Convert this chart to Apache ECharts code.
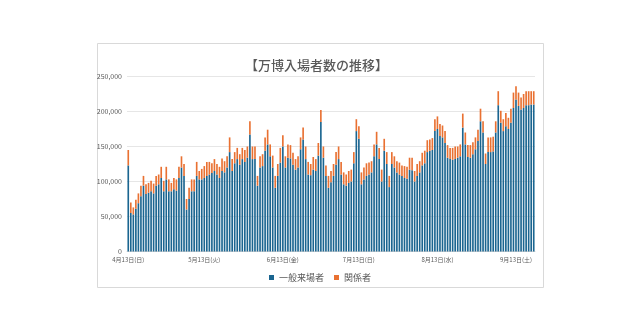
<!DOCTYPE html>
<html>
<head>
<meta charset="utf-8">
<script src="https://cdn.jsdelivr.net/npm/echarts@6/dist/echarts.min.js"></script>
<style>
html,body{margin:0;padding:0;background:#fff;}
#c{width:640px;height:331px;}
</style>
</head>
<body>
<div id="c"></div>
<script>
// ---- data ----
const startDate = [2025, 4, 13];   // first day shown
const dayCount = 161;              // 4/13 .. 9/20
const weekdays = ['日','月','火','水','木','金','土'];
const tickLabels = ['4月13日(日)','5月13日(火)','6月13日(金)','7月13日(日)','8月13日(水)','9月13日(土)'];
const seriesNames = ['一般来場者','関係者'];
const yTicks = [0, 50000, 100000, 150000, 200000, 250000];

const general = [
123000,55000,53000,61000,69000,79000,94000,82000,84000,86000,
83000,94000,96000,105000,86000,103000,86000,86000,89000,87000,
105000,120000,108000,60000,75000,86000,86000,108000,103000,103000,
105000,108000,110000,112000,115000,110000,105000,115000,113000,120000,
142000,115000,126000,132000,124000,132000,128000,134000,167000,132000,
132000,94000,120000,122000,144000,153000,136000,120000,91000,108000,
127000,150000,120000,134000,133000,124000,117000,120000,146000,160000,
132000,110000,109000,117000,115000,137000,185000,134000,108000,91000,
99000,108000,124000,132000,110000,96000,94000,98000,100000,126000,
172000,161000,96000,103000,108000,110000,113000,136000,153000,132000,
100000,144000,125000,92000,125000,120000,113000,110000,108000,105000,
104000,117000,116000,100000,108000,113000,123000,126000,142000,144000,
145000,172000,175000,165000,163000,155000,134000,132000,131000,132000,
134000,136000,177000,153000,135000,134000,139000,146000,158000,186000,
170000,125000,142000,142000,143000,170000,209000,184000,172000,179000,
175000,184000,205000,217000,208000,203000,205000,209000,209000,210000,
210000
];
const related = [
22000,15000,10000,13000,14000,15000,14000,14000,14000,15000,
14000,14000,14000,16000,15000,18000,17000,12000,16000,16000,
16000,16000,17000,15000,16000,17000,17000,20000,12000,15000,
17000,20000,18000,14000,17000,15000,16000,18000,16000,16000,
21000,17000,16000,16000,15000,16000,17000,16000,19000,18000,
18000,14000,16000,17000,19000,21000,17000,17000,17000,17000,
21000,16000,16000,19000,19000,17000,15000,16000,17000,17000,
18000,18000,16000,18000,17000,18000,17000,16000,15000,17000,
16000,17000,18000,18000,18000,17000,16000,17000,17000,16000,
17000,18000,17000,17000,18000,17000,16000,17000,18000,16000,
17000,17000,17000,16000,17000,16000,16000,17000,15000,17000,
17000,17000,18000,15000,17000,16000,18000,18000,17000,16000,
17000,17000,18000,17000,17000,17000,18000,16000,17000,18000,
16000,17000,20000,17000,17000,18000,17000,17000,16000,18000,
16000,15000,21000,21000,21000,16000,20000,17000,17000,19000,
16000,20000,22000,19000,19000,17000,20000,20000,20000,19000,
19000
];

// category labels: consecutive calendar days
const categories = [];
for (let k = 0; k < dayCount; k++) {
  const d = new Date(startDate[0], startDate[1] - 1, startDate[2] + k);
  categories.push((d.getMonth() + 1) + '月' + d.getDate() + '日(' + weekdays[d.getDay()] + ')');
}

const FONT = '"Noto Sans CJK JP", "Noto Sans", sans-serif';
const chart = echarts.init(document.getElementById('c'), null, {renderer: 'canvas'});
chart.setOption({
  animation: false,
  backgroundColor: '#ffffff',
  graphic: [{
    type: 'rect',
    shape: {x: 97.5, y: 43.5, width: 446, height: 244},
    style: {fill: 'none', stroke: '#D9D9D9', lineWidth: 1},
    silent: true, z: -1
  }],
  title: {
    text: '【万博入場者数の推移】',
    left: 240, top: 54,
    textStyle: {fontFamily: FONT, fontSize: 13, fontWeight: 500, color: '#595959'}
  },
  legend: {
    data: seriesNames,
    left: 'center', top: 268,
    icon: 'rect', itemWidth: 5, itemHeight: 5, itemGap: 10,
    textStyle: {fontFamily: FONT, fontSize: 9, color: '#595959'}
  },
  grid: {left: 127, right: 105, top: 76.5, bottom: 79.5, containLabel: false},
  xAxis: {
    type: 'category',
    data: categories,
    axisLine: {show: true, lineStyle: {color: '#D9D9D9', width: 1}},
    axisTick: {show: false},
    axisLabel: {
      interval: function (idx, val) { return tickLabels.indexOf(val) >= 0; },
      fontFamily: FONT, fontSize: 6, color: '#595959', margin: 5
    }
  },
  yAxis: {
    type: 'value',
    min: yTicks[0], max: yTicks[yTicks.length - 1], interval: 50000,
    axisLine: {show: false}, axisTick: {show: false},
    splitLine: {lineStyle: {color: '#E6E6E6', width: 1}},
    axisLabel: {
      fontFamily: FONT, fontSize: 7, color: '#595959', margin: 5,
      formatter: function (v) { return v.toLocaleString('en-US'); }
    }
  },
  series: [
    {name: seriesNames[0], type: 'bar', stack: 'total', data: general,
     itemStyle: {color: '#1B6590'}, barCategoryGap: '35%'},
    {name: seriesNames[1], type: 'bar', stack: 'total', data: related,
     itemStyle: {color: '#E97132'}, barCategoryGap: '35%'}
  ]
});
</script>
</body>
</html>
